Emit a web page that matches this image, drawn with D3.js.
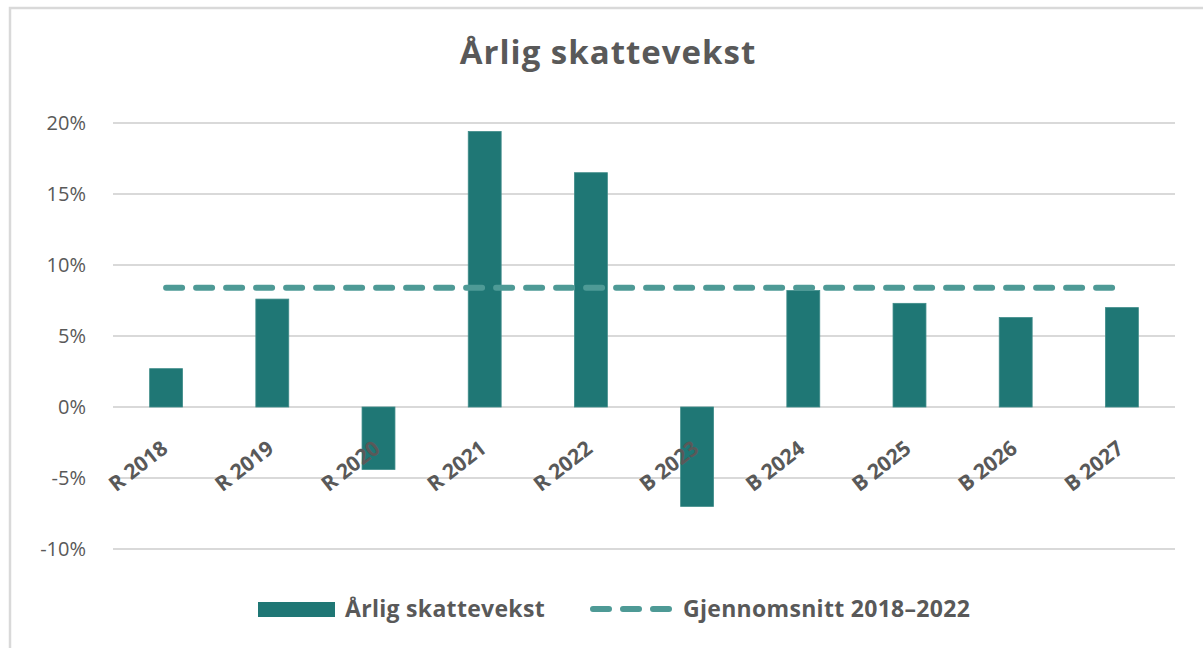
<!DOCTYPE html>
<html>
<head>
<meta charset="utf-8">
<script src="https://cdn.jsdelivr.net/npm/d3@7"></script>
<style>
  body { margin: 0; background: #fff; }
  svg { display: block; font-family: "Open Sans", "Noto Sans", sans-serif; }
  .grid line { stroke: #d9d9d9; stroke-width: 2; }
  .ytick { fill: #595959; font-size: 20px; }
  .xlabel { fill: #595959; font-size: 21px; font-weight: bold; }
  .legtext { fill: #595959; font-size: 23px; font-weight: bold; letter-spacing: 0.3px; }
</style>
</head>
<body>
<div id="chart"></div>
<script>
var categories = ["R 2018", "R 2019", "R 2020", "R 2021", "R 2022", "B 2023", "B 2024", "B 2025", "B 2026", "B 2027"];
var growth = [2.7, 7.6, -4.4, 19.4, 16.5, -7.0, 8.2, 7.3, 6.3, 7.0];
var average = 8.4;
var yTicks = [-10, -5, 0, 5, 10, 15, 20];
var seriesNames = ["Årlig skattevekst", "Gjennomsnitt 2018–2022"];

var fullwidth = 1203, fullheight = 648;
var margin = {top: 123, right: 28, bottom: 99, left: 113};
var width = fullwidth - margin.left - margin.right;
var height = fullheight - margin.top - margin.bottom;

var barColor = "#1f7775", lineColor = "#4e9a96";

var root = d3.select("#chart").append("svg")
    .attr("width", fullwidth)
    .attr("height", fullheight);

// chart frame (cut off at right and bottom)
root.append("rect")
    .attr("x", 10).attr("y", 8)
    .attr("width", 1250).attr("height", 700)
    .attr("fill", "none")
    .attr("stroke", "#d9d9d9")
    .attr("stroke-width", 2.5);

root.append("text")
    .attr("x", 608).attr("y", 64)
    .attr("text-anchor", "middle")
    .attr("fill", "#595959")
    .style("font-size", "33px")
    .style("font-weight", "bold")
    .style("letter-spacing", "1px")
    .text("Årlig skattevekst");

var svg = root.append("g")
    .attr("transform", "translate(" + margin.left + "," + margin.top + ")");

var xScale = d3.scaleBand()
    .domain(categories)
    .range([0, width])
    .paddingInner(0.69)
    .paddingOuter(0.345);

var yScale = d3.scaleLinear()
    .domain([-10, 20])
    .range([height, 0]);

// gridlines
svg.append("g").attr("class", "grid")
    .selectAll("line")
    .data(yTicks)
    .enter().append("line")
    .attr("x1", 0).attr("x2", width)
    .attr("y1", function(d) { return yScale(d); })
    .attr("y2", function(d) { return yScale(d); });

// y labels
svg.selectAll(".ytick")
    .data(yTicks)
    .enter().append("text")
    .attr("class", "ytick")
    .attr("x", -27)
    .attr("y", function(d) { return yScale(d); })
    .attr("dy", "0.35em")
    .attr("text-anchor", "end")
    .text(function(d) { return d + "%"; });

// bars
svg.selectAll(".bar")
    .data(growth)
    .enter().append("rect")
    .attr("class", "bar")
    .attr("x", function(d, i) { return xScale(categories[i]); })
    .attr("width", xScale.bandwidth())
    .attr("y", function(d) { return yScale(Math.max(0, d)); })
    .attr("height", function(d) { return Math.abs(yScale(d) - yScale(0)); })
    .attr("fill", barColor)
    .attr("stroke", "#3f8c89")
    .attr("stroke-width", 0.8);

// category labels, rotated, anchored below zero line
svg.selectAll(".xlabel")
    .data(categories)
    .enter().append("text")
    .attr("class", "xlabel")
    .attr("transform", function(d) {
        var cx = xScale(d) + xScale.bandwidth() / 2 + 3;
        return "translate(" + cx + "," + (yScale(0) + 44) + ") rotate(-38)";
    })
    .attr("text-anchor", "end")
    .text(function(d) { return d; });

// average line
var c0 = xScale(categories[0]) + xScale.bandwidth() / 2;
var c1 = xScale(categories[categories.length - 1]) + xScale.bandwidth() / 2;
svg.append("line")
    .attr("x1", c0).attr("x2", c1)
    .attr("y1", yScale(average)).attr("y2", yScale(average))
    .attr("stroke", lineColor)
    .attr("stroke-width", 6)
    .attr("stroke-linecap", "round")
    .attr("stroke-dasharray", "16,14");

// legend
var legend = root.append("g");
legend.append("rect")
    .attr("x", 258).attr("y", 602)
    .attr("width", 77).attr("height", 15)
    .attr("fill", barColor);
legend.append("text")
    .attr("class", "legtext")
    .attr("x", 345).attr("y", 617)
    .text(seriesNames[0]);
legend.append("line")
    .attr("x1", 593).attr("x2", 669)
    .attr("y1", 609).attr("y2", 609)
    .attr("stroke", lineColor)
    .attr("stroke-width", 6)
    .attr("stroke-linecap", "round")
    .attr("stroke-dasharray", "16,14");
legend.append("text")
    .attr("class", "legtext")
    .attr("x", 683).attr("y", 617)
    .text(seriesNames[1]);
</script>
</body>
</html>
